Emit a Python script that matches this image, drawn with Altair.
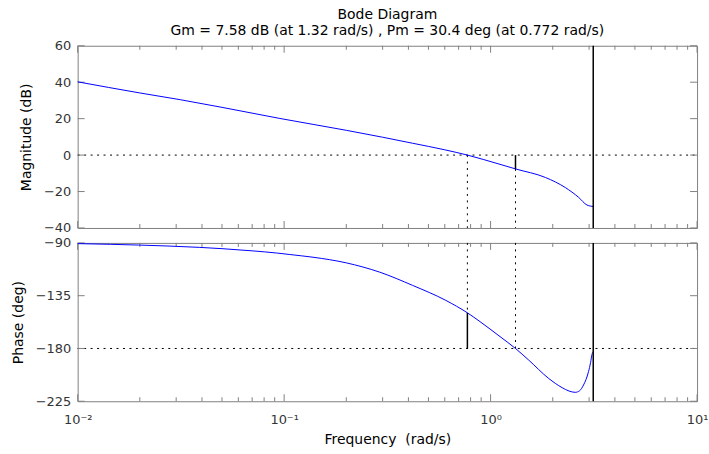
import altair as alt
import pandas as pd

# ---- data ----
freq_mag = [0.01, 0.02, 0.0314, 0.05, 0.0954, 0.2, 0.3, 0.419, 0.6, 0.772,
            1.098, 1.32, 1.845, 2.30, 2.67, 2.93, 3.05, 3.1416]
mag_db = [40.2, 34.1, 30.4, 26.2, 20.1, 13.6, 9.8, 6.5, 2.9, 0.0,
          -4.9, -7.58, -12.3, -17.8, -23.2, -27.4, -28.0, -28.2]

freq_phase = [0.01, 0.0144, 0.0271, 0.039, 0.05, 0.0706, 0.0919, 0.1066, 0.138,
              0.2, 0.29, 0.419, 0.607, 0.772, 0.879, 1.098, 1.32, 1.53, 1.91,
              2.22, 2.40, 2.57, 2.70, 2.82, 2.98, 3.05, 3.10, 3.1416]
phase_deg = [-90.6, -91.2, -92.6, -93.8, -94.9, -96.8, -98.6, -99.9, -102.2,
             -107.0, -114.9, -126.2, -139.0, -149.6, -156.5, -169.2, -180.0,
             -189.9, -205.5, -213.4, -216.3, -217.4, -216.0, -211.1, -199.8,
             -192.0, -185.0, -182.6]

gm_db = 7.58
gm_freq = 1.32
pm_deg = 30.4
pm_freq = 0.772
nyquist = 3.1416

mag_ticks = [-40, -20, 0, 20, 40, 60]
phase_ticks = [-225, -180, -135, -90]
x_major = [0.01, 0.1, 1, 10]
x_minor = [k * 10 ** d for d in (-2, -1, 0) for k in range(2, 10)]

title_lines = ["Bode Diagram",
               f"Gm = {gm_db} dB (at {gm_freq} rad/s) , Pm = {pm_deg} deg (at {pm_freq} rad/s)"]

# ---- layout ----
W = 622
H1 = 183
H2 = 159
FONT = "DejaVu Sans"
FRAME = "#808080"

xs = alt.Scale(type="log", domain=[0.01, 10], nice=False)
ys1 = alt.Scale(domain=[-40, 60], nice=False, zero=False)
ys2 = alt.Scale(domain=[-225, -90], nice=False, zero=False)

label_expr = ("'10' + (datum.value < 0.05 ? '⁻²' : datum.value < 0.5 ? '⁻¹' : "
              "datum.value < 5 ? '⁰' : '¹')")

x_axis_top = None
x_axis_bot = alt.Axis(values=x_major, labelExpr=label_expr, title="Frequency\u00a0 (rad/s)",
                      ticks=False, domain=False, grid=False, labelPadding=12, titlePadding=6,
                      labelFlush=False)
y_axis_top = alt.Axis(values=mag_ticks, title="Magnitude (dB)", ticks=False, domain=False,
                      grid=False, labelPadding=7, titlePadding=10, labelFlush=False)
y_axis_bot = alt.Axis(values=phase_ticks, title="Phase (deg)", ticks=False, domain=False,
                      grid=False, labelPadding=7, titlePadding=10, labelFlush=False)


def X(field, ax):
    return alt.X(field, scale=xs, axis=ax)


def ticks_layers(ys, ytick_vals, H, xax, yax):
    layers = []
    for vals, ln in ((x_major, 7), (x_minor, 4)):
        d = pd.DataFrame({"f": vals})
        layers.append(alt.Chart(d).mark_rule(color=FRAME, strokeWidth=1).encode(
            x=X("f:Q", xax), y=alt.value(0), y2=alt.value(ln)))
        layers.append(alt.Chart(d).mark_rule(color=FRAME, strokeWidth=1).encode(
            x=X("f:Q", xax), y=alt.value(H), y2=alt.value(H - ln)))
    d = pd.DataFrame({"v": ytick_vals})
    layers.append(alt.Chart(d).mark_rule(color=FRAME, strokeWidth=1).encode(
        y=alt.Y("v:Q", scale=ys, axis=yax), x=alt.value(0), x2=alt.value(7)))
    layers.append(alt.Chart(d).mark_rule(color=FRAME, strokeWidth=1).encode(
        y=alt.Y("v:Q", scale=ys, axis=yax), x=alt.value(W), x2=alt.value(W - 7)))
    return layers


dot = [2, 4.5]

# ---- magnitude panel ----
mag_df = pd.DataFrame({"f": freq_mag, "m": mag_db})
mag_line = alt.Chart(mag_df).mark_line(color="#0000ff", strokeWidth=1, interpolate="monotone").encode(
    x=X("f:Q", x_axis_top),
    y=alt.Y("m:Q", scale=ys1, axis=y_axis_top),
)

zero_df = pd.DataFrame({"y": [0]})
mag_h = alt.Chart(zero_df).mark_rule(color="black", strokeDash=dot, strokeWidth=1).encode(
    y=alt.Y("y:Q", scale=ys1, axis=y_axis_top), x=alt.value(0), x2=alt.value(W))

mag_dotted_df = pd.DataFrame({"f": [pm_freq, gm_freq], "y1": [0, -gm_db], "y2": [-40, -40]})
mag_dotted = alt.Chart(mag_dotted_df).mark_rule(color="black", strokeDash=dot, strokeWidth=1).encode(
    x=X("f:Q", x_axis_top), y=alt.Y("y1:Q", scale=ys1, axis=y_axis_top), y2="y2:Q")

mag_solid_df = pd.DataFrame({"f": [gm_freq, nyquist], "y1": [0, -40], "y2": [-gm_db, 60]})
mag_solid = alt.Chart(mag_solid_df).mark_rule(color="black", strokeWidth=1.5).encode(
    x=X("f:Q", x_axis_top), y=alt.Y("y1:Q", scale=ys1, axis=y_axis_top), y2="y2:Q")

top = alt.layer(
    mag_h, mag_dotted, *ticks_layers(ys1, mag_ticks, H1, x_axis_top, y_axis_top), mag_line, mag_solid
).properties(
    width=W, height=H1,
    title=alt.TitleParams(text=title_lines, fontSize=14, font=FONT, fontWeight="normal",
                          anchor="middle", frame="group", lineHeight=16, offset=2, color="black"),
)

# ---- phase panel ----
ph_df = pd.DataFrame({"f": freq_phase, "p": phase_deg})
ph_line = alt.Chart(ph_df).mark_line(color="#0000ff", strokeWidth=1, interpolate="monotone").encode(
    x=X("f:Q", x_axis_bot),
    y=alt.Y("p:Q", scale=ys2, axis=y_axis_bot),
)

m180_df = pd.DataFrame({"y": [-180]})
ph_h = alt.Chart(m180_df).mark_rule(color="black", strokeDash=dot, strokeWidth=1).encode(
    y=alt.Y("y:Q", scale=ys2, axis=y_axis_bot), x=alt.value(0), x2=alt.value(W))

ph_dotted_df = pd.DataFrame({"f": [pm_freq, gm_freq], "y1": [-90, -90],
                             "y2": [-180 + pm_deg, -180]})
ph_dotted = alt.Chart(ph_dotted_df).mark_rule(color="black", strokeDash=dot, strokeWidth=1).encode(
    x=X("f:Q", x_axis_bot), y=alt.Y("y1:Q", scale=ys2, axis=y_axis_bot), y2="y2:Q")

ph_solid_df = pd.DataFrame({"f": [pm_freq, nyquist], "y1": [-180 + pm_deg, -225],
                            "y2": [-180, -90]})
ph_solid = alt.Chart(ph_solid_df).mark_rule(color="black", strokeWidth=1.5).encode(
    x=X("f:Q", x_axis_bot), y=alt.Y("y1:Q", scale=ys2, axis=y_axis_bot), y2="y2:Q")

bottom = alt.layer(
    ph_h, ph_dotted, *ticks_layers(ys2, phase_ticks, H2, x_axis_bot, y_axis_bot), ph_line, ph_solid
).properties(width=W, height=H2)

chart = alt.vconcat(top, bottom, spacing=15, bounds="flush").properties(
    padding={"left": 10, "top": 6, "right": 0, "bottom": 0},
    background="white",
).configure_view(
    stroke=FRAME, strokeWidth=1
).configure_axis(
    labelFont=FONT, titleFont=FONT, labelFontSize=13, titleFontSize=14,
    labelColor="#333333", titleColor="black", titleFontWeight="normal",
)

chart.save("out.html", embed_options={"renderer": "svg", "actions": False})
